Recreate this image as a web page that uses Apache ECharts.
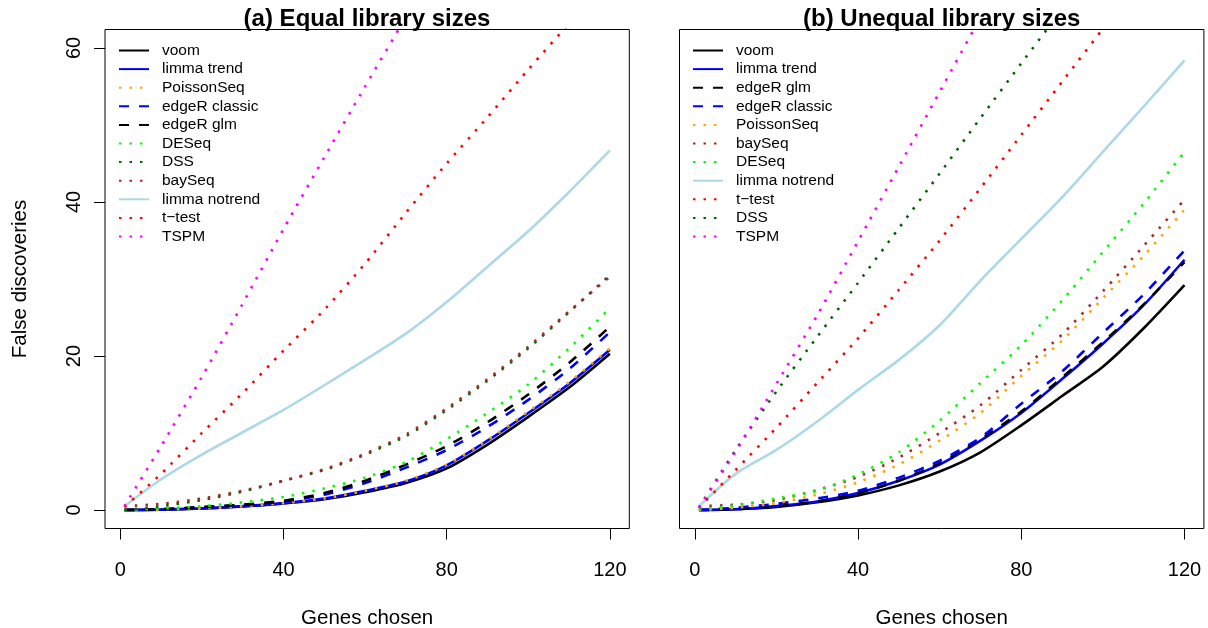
<!DOCTYPE html>
<html>
<head>
<meta charset="utf-8">
<title>False discoveries</title>
<script src="https://cdn.jsdelivr.net/npm/echarts@6/dist/echarts.min.js"></script>
<style>
  html, body { margin: 0; padding: 0; background: #fff; }
  #chart { width: 1208px; height: 628px; }
</style>
</head>
<body>
<div id="chart"></div>
<script>
// genes chosen (x positions of the readings)
const genes = [1, 10, 20, 30, 40, 50, 60, 70, 80, 90, 100, 110, 120];
const xTicks = [0, 40, 80, 120];
const yTicks = [0, 20, 40, 60];

// (a) equal library sizes
const eqVoom = [0, 0.05, 0.2, 0.45, 0.85, 1.4, 2.3, 3.5, 5.4, 8.5, 12.1, 15.9, 20.3];
const eqLimmaTrend = [0, 0.05, 0.2, 0.5, 0.9, 1.5, 2.5, 3.7, 5.8, 9, 12.6, 16.4, 20.8];
const eqPoissonSeq = [0, 0.05, 0.2, 0.5, 0.9, 1.5, 2.5, 3.8, 5.9, 9.1, 12.8, 16.6, 21.0];
const eqEdgeRClassic = [0, 0.1, 0.35, 0.65, 1.1, 2.0, 3.5, 5.5, 7.8, 10.8, 14.3, 18.3, 23.1];
const eqEdgeRGlm = [0, 0.1, 0.4, 0.7, 1.2, 2.2, 3.8, 5.9, 8.3, 11.4, 15, 19.1, 23.8];
const eqDESeq = [0, 0.2, 0.5, 1, 1.7, 2.8, 4.2, 6.2, 9.2, 12.6, 16.3, 21, 26.2];
const eqDSS = [0, 0.5, 1.3, 2.4, 3.8, 5.2, 7.2, 9.6, 13, 16.8, 21, 25.7, 30.5];
const eqBaySeq = [0.5, 0.8, 1.5, 2.5, 3.8, 5.3, 7.3, 9.8, 13.2, 17, 21.2, 25.8, 30.3];
const eqLimmaNotrend = [0.5, 4, 7.2, 10.1, 13.0, 16.2, 19.5, 22.9, 27, 31.6, 36.2, 41.3, 46.7];
const eqTTest = [0.4, 4.7, 10, 15.2, 20.7, 26, 32, 38.6, 45, 51, 57.2, 63.2];
const eqTSPM = [0.5, 8.3, 17.3, 26.8, 36.5, 45.8, 55, 64];

// (b) unequal library sizes
const uneqVoom = [0, 0.1, 0.4, 1, 1.9, 3.2, 5, 7.5, 11, 14.8, 18.6, 23.6, 29.2];
const uneqLimmaTrend = [0, 0.1, 0.5, 1.1, 2.2, 3.8, 5.9, 9, 12.6, 17, 21.6, 26.6, 32.5];
const uneqEdgeRGlm = [0, 0.1, 0.5, 1.1, 2.2, 3.8, 6.1, 9.2, 12.8, 17.2, 21.8, 26.7, 32.2];
const uneqEdgeRClassic = [0, 0.3, 0.8, 1.5, 2.5, 4.2, 6.4, 9.4, 13.8, 18, 23, 28, 33.7];
const uneqPoissonSeq = [0, 0.3, 0.9, 2, 3.6, 5.9, 9, 12.6, 17.4, 22, 27.5, 33, 39];
const uneqBaySeq = [0.5, 0.7, 1.3, 2.6, 4.3, 6.8, 10, 13.6, 18.2, 22.8, 28.4, 34.3, 40.3];
const uneqDESeq = [0.1, 0.6, 1.5, 2.5, 4.6, 7.5, 11.6, 16.5, 21.4, 27.2, 33.5, 39.8, 46.5];
const uneqLimmaNotrend = [0.5, 4.7, 7.8, 11.5, 15.6, 19.5, 24, 29.8, 35.2, 40.6, 46.5, 52.4, 58.4];
const uneqTTest = [0.3, 5.2, 10.7, 16.5, 22.3, 28.6, 35, 41.8, 48.7, 55.6, 62.5];
const uneqDSS = [0.3, 7.8, 15.4, 22.5, 29.5, 36.6, 43.7, 50.9, 58, 65];
const uneqTSPM = [0.3, 7.6, 16.4, 25.3, 34.9, 44.6, 54.3, 64];

const TTEST = "t\u2212test";

const panelA = [
  ["voom", eqVoom],
  ["limma trend", eqLimmaTrend],
  ["PoissonSeq", eqPoissonSeq],
  ["edgeR classic", eqEdgeRClassic],
  ["edgeR glm", eqEdgeRGlm],
  ["DESeq", eqDESeq],
  ["DSS", eqDSS],
  ["baySeq", eqBaySeq],
  ["limma notrend", eqLimmaNotrend],
  [TTEST, eqTTest],
  ["TSPM", eqTSPM],
];
const panelB = [
  ["voom", uneqVoom],
  ["limma trend", uneqLimmaTrend],
  ["edgeR glm", uneqEdgeRGlm],
  ["edgeR classic", uneqEdgeRClassic],
  ["PoissonSeq", uneqPoissonSeq],
  ["baySeq", uneqBaySeq],
  ["DESeq", uneqDESeq],
  ["limma notrend", uneqLimmaNotrend],
  [TTEST, uneqTTest],
  ["DSS", uneqDSS],
  ["TSPM", uneqTSPM],
];

const DOTS = [2.5, 8];
const DASH = [10, 10];
const styles = {
  "voom": { color: "#000000", type: "solid" },
  "limma trend": { color: "#0000FF", type: "solid" },
  "PoissonSeq": { color: "#FFA500", type: DOTS },
  "edgeR classic": { color: "#0000FF", type: DASH },
  "edgeR glm": { color: "#000000", type: DASH },
  "DESeq": { color: "#00FF00", type: DOTS },
  "DSS": { color: "#006400", type: DOTS },
  "baySeq": { color: "#A52A2A", type: DOTS },
  "limma notrend": { color: "#ADD8E6", type: "solid" },
  [TTEST]: { color: "#FF0000", type: DOTS },
  "TSPM": { color: "#FF00FF", type: DOTS },
};

const FONT = "'Liberation Sans', Arial, Helvetica, sans-serif";

var chartDom = document.getElementById("chart");
var myChart = echarts.init(chartDom, null, { renderer: "canvas" });

function makeSeries(panel, idx) {
  return panel.map(function (item) {
    const name = item[0];
    const st = styles[name];
    return {
      name: name,
      type: "line",
      xAxisIndex: idx,
      yAxisIndex: idx,
      data: item[1].map(function (v, i) { return [genes[i], v]; }),
      symbol: "none",
      smooth: 0.25,
      clip: true,
      color: st.color,
      lineStyle: { color: st.color, width: 2.6, type: st.type, cap: "butt" },
      emphasis: { disabled: true },
    };
  });
}

function makeLegend(panel, left) {
  return {
    data: panel.map(function (p) { return p[0]; }),
    orient: "vertical",
    left: left,
    top: 42.5,
    padding: 0,
    itemWidth: 30,
    itemHeight: 14,
    itemGap: 2.6,
    itemStyle: { opacity: 0 },
    selectedMode: false,
    textStyle: { fontFamily: FONT, fontSize: 15.5, color: "#000", lineHeight: 14, padding: [0, 0, 0, 8] },
  };
}

function makeXAxis(idx) {
  return {
    type: "value",
    gridIndex: idx,
    min: -3.76,
    max: 124.76,
    name: "Genes chosen",
    nameLocation: "middle",
    nameGap: 79.5,
    nameTextStyle: { fontFamily: FONT, fontSize: 20.5, color: "#000" },
    axisLine: { show: false, onZero: false },
    axisTick: { show: true, length: 11, inside: false, customValues: xTicks, lineStyle: { color: "#000", width: 1 } },
    axisLabel: { show: true, customValues: xTicks, margin: 31.5, fontFamily: FONT, fontSize: 20, color: "#000" },
    splitLine: { show: false },
  };
}

function makeYAxis(idx, labelled) {
  return {
    type: "value",
    gridIndex: idx,
    min: -2.4,
    max: 62.4,
    name: labelled ? "False discoveries" : "",
    nameLocation: "middle",
    nameGap: 74,
    nameTextStyle: { fontFamily: FONT, fontSize: 20.5, color: "#000" },
    axisLine: { show: false, onZero: false },
    axisTick: { show: labelled, length: 11, customValues: yTicks, lineStyle: { color: "#000", width: 1 } },
    axisLabel: { show: labelled, customValues: yTicks, rotate: 90, margin: 21, fontFamily: FONT, fontSize: 20, color: "#000" },
    splitLine: { show: false },
  };
}

var option = {
  backgroundColor: "#ffffff",
  animation: false,
  title: [
    { text: "(a) Equal library sizes", left: 367, top: 7, textAlign: "center", padding: 0,
      textStyle: { fontFamily: FONT, fontSize: 24, fontWeight: "bold", color: "#000" } },
    { text: "(b) Unequal library sizes", left: 941.7, top: 7, textAlign: "center", padding: 0,
      textStyle: { fontFamily: FONT, fontSize: 24, fontWeight: "bold", color: "#000" } },
  ],
  legend: [makeLegend(panelA, 118), makeLegend(panelB, 692)],
  grid: [
    { left: 105, top: 29.5, width: 524.3, height: 499, outerBoundsMode: "none", show: true, borderColor: "#000", borderWidth: 1, backgroundColor: "transparent" },
    { left: 679.5, top: 29.5, width: 524.4, height: 499, outerBoundsMode: "none", show: true, borderColor: "#000", borderWidth: 1, backgroundColor: "transparent" },
  ],
  xAxis: [makeXAxis(0), makeXAxis(1)],
  yAxis: [makeYAxis(0, true), makeYAxis(1, false)],
  series: makeSeries(panelA, 0).concat(makeSeries(panelB, 1)),
};

option && myChart.setOption(option);
</script>
</body>
</html>
